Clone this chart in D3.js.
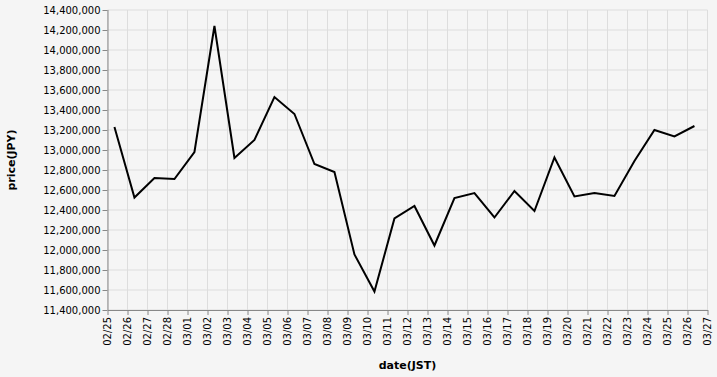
<!DOCTYPE html>
<html><head><meta charset="utf-8">
<script src="https://cdn.jsdelivr.net/npm/d3@7"></script>
<style>
html,body{margin:0;padding:0;background:#f5f5f5;}
svg{display:block;font-family:"DejaVu Sans",sans-serif;}
</style></head>
<body>
<svg id="chart" width="717" height="377"></svg>
<script>
const dates = ["2025-02-25","2025-02-26","2025-02-27","2025-02-28","2025-03-01","2025-03-02","2025-03-03","2025-03-04","2025-03-05","2025-03-06","2025-03-07","2025-03-08","2025-03-09","2025-03-10","2025-03-11","2025-03-12","2025-03-13","2025-03-14","2025-03-15","2025-03-16","2025-03-17","2025-03-18","2025-03-19","2025-03-20","2025-03-21","2025-03-22","2025-03-23","2025-03-24","2025-03-25","2025-03-26"];
const prices = [13230000,12525000,12720000,12710000,12980000,14240000,12920000,13100000,13530000,13360000,12860000,12780000,11955000,11585000,12315000,12440000,12045000,12520000,12570000,12325000,12590000,12390000,12925000,12535000,12570000,12540000,12890000,13200000,13135000,13240000];
const yTicks = [11400000,11600000,11800000,12000000,12200000,12400000,12600000,12800000,13000000,13200000,13400000,13600000,13800000,14000000,14200000,14400000];
const xDomain = ["2025-02-25","2025-03-27"];
const timeOfDay = "T08:20:00Z";

const data = dates.map((d,i)=>({t:new Date(d+timeOfDay), v:prices[i]}));
const svg = d3.select("#chart");
const m = {l:107.5, t:10, w:600, h:300};
const x = d3.scaleUtc().domain(xDomain.map(d=>new Date(d+"T00:00:00Z"))).range([0,m.w]);
const y = d3.scaleLinear().domain([11400000,14400000]).range([m.h,0]);
const g = svg.append("g").attr("transform",`translate(${m.l},${m.t})`);
const xTickVals = d3.utcDay.range(x.domain()[0], d3.utcDay.offset(x.domain()[1],1));

// grid
g.append("g").selectAll("line").data(xTickVals).join("line")
 .attr("x1",d=>x(d)).attr("x2",d=>x(d)).attr("y1",0).attr("y2",m.h)
 .attr("stroke","#ddd").attr("stroke-width",1);
g.append("g").selectAll("line").data(yTicks).join("line")
 .attr("x1",0).attr("x2",m.w).attr("y1",d=>y(d)).attr("y2",d=>y(d))
 .attr("stroke","#ddd").attr("stroke-width",1);

// axes
const fmt = d3.format(",");
const ya = g.append("g").call(d3.axisLeft(y).tickValues(yTicks).tickFormat(fmt).tickSize(5).tickPadding(2));
ya.selectAll("path,line").attr("stroke","#888");
ya.selectAll("text").attr("font-size",10).attr("font-family","DejaVu Sans, sans-serif").attr("fill","#000");
ya.select(".domain").attr("d",`M0.5,0V${m.h}`);

const xa = g.append("g").attr("transform",`translate(0,${m.h})`)
 .call(d3.axisBottom(x).tickValues(xTickVals).tickFormat(d3.utcFormat("%m/%d")).tickSize(5).tickSizeOuter(0));
xa.selectAll("path,line").attr("stroke","#888");
xa.selectAll("text").attr("font-size",10).attr("font-family","DejaVu Sans, sans-serif").attr("fill","#000")
 .attr("transform","rotate(-90)").attr("text-anchor","end").attr("dy","0.32em").attr("x",-7).attr("y",0);

// line
g.append("path").datum(data)
 .attr("d",d3.line().x(d=>x(d.t)).y(d=>y(d.v)))
 .attr("fill","none").attr("stroke","#000").attr("stroke-width",2);

// titles
svg.append("text").attr("transform",`translate(15,${m.t+m.h/2}) rotate(-90)`)
 .attr("text-anchor","middle").attr("font-size",11).attr("font-weight","bold").text("price(JPY)");
svg.append("text").attr("x",m.l+m.w/2).attr("y",369)
 .attr("text-anchor","middle").attr("font-size",11).attr("font-weight","bold").text("date(JST)");
</script>
</body></html>
